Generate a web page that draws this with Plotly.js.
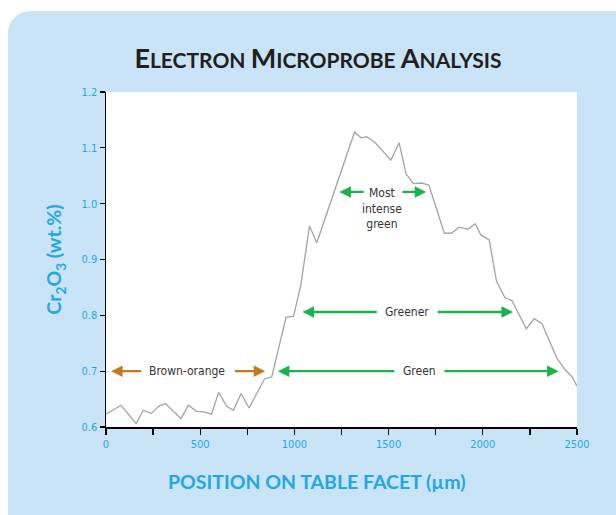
<!DOCTYPE html>
<html>
<head>
<meta charset="utf-8">
<script src="https://cdn.plot.ly/plotly-3.0.1.min.js"></script>
<style>
  html, body { margin: 0; padding: 0; background: #ffffff; width: 616px; height: 515px; overflow: hidden; }
  #card { position: absolute; left: 8px; top: 11px; width: 720px; height: 620px; background: #c9e4f7; border-radius: 22px; }
  #chart { position: absolute; left: 0; top: 0; width: 616px; height: 515px; }
</style>
</head>
<body>
<div id="card"></div>
<div id="chart"></div>
<script>
// Position on table facet (µm)
const positionUm = [0, 80, 160, 198, 240, 282, 315, 398, 437, 481, 518, 560, 598, 641, 676, 717, 759, 841, 880, 956, 995, 1034, 1080, 1119, 1319, 1354, 1384, 1429, 1512, 1556, 1593, 1632, 1677, 1714, 1796, 1832, 1876, 1921, 1960, 1990, 2034, 2073, 2117, 2155, 2231, 2273, 2314, 2394, 2438, 2473, 2500];
// Cr2O3 (wt.%)
const cr2o3 = [0.623, 0.639, 0.606, 0.630, 0.624, 0.638, 0.642, 0.615, 0.639, 0.628, 0.627, 0.623, 0.662, 0.637, 0.630, 0.660, 0.634, 0.686, 0.690, 0.797, 0.798, 0.854, 0.960, 0.930, 1.128, 1.118, 1.120, 1.109, 1.078, 1.109, 1.053, 1.036, 1.037, 1.033, 0.947, 0.947, 0.958, 0.954, 0.964, 0.944, 0.935, 0.861, 0.832, 0.826, 0.776, 0.794, 0.785, 0.723, 0.702, 0.690, 0.673];

const xTickVals = [0, 500, 1000, 1500, 2000, 2500];
const xTickText = ['0', '500', '1000', '1500', '2000', '2500'];

// Colour zone labels: [text, x, y]
const zoneLabels = [
  ['Brown-orange', 432, 0.70],
  ['Green', 1664, 0.70],
  ['Greener', 1600, 0.806],
  ['Most<br>intense<br>green', 1466, 0.992]
];
// Arrows: [tailX, tipX, y, colour]
const zoneArrows = [
  [195, 27, 0.70, 'brown'],
  [676, 845, 0.70, 'brown'],
  [1538, 912, 0.70, 'green'],
  [1788, 2402, 0.70, 'green'],
  [1445, 1043, 0.806, 'green'],
  [1753, 2160, 0.806, 'green'],
  [1376, 1239, 1.021, 'green'],
  [1565, 1700, 1.021, 'green']
];

const colours = { brown: '#c4791f', green: '#1cb24b' };
const cyan = '#22a8e0';
const tickFont = { family: 'DejaVu Sans Condensed, DejaVu Sans, sans-serif', size: 11, color: cyan };
const labelFont = { family: 'DejaVu Sans Condensed, DejaVu Sans, sans-serif', size: 12, color: '#333333' };

const annotations = [];
zoneArrows.forEach(a => {
  annotations.push({
    x: a[1], y: a[2], ax: a[0], ay: a[2],
    xref: 'x', yref: 'y', axref: 'x', ayref: 'y',
    text: '', showarrow: true,
    arrowhead: 2, arrowsize: 1, arrowwidth: 2.3,
    arrowcolor: colours[a[3]], standoff: 0, startstandoff: 0
  });
});
zoneLabels.forEach(l => {
  annotations.push({
    x: l[1], y: l[2], xref: 'x', yref: 'y',
    text: l[0], showarrow: false, font: labelFont,
    xanchor: 'center', yanchor: 'middle', align: 'center'
  });
});
// x-axis title (offset left of the plot centre, as in the reference)
annotations.push({
  x: (317 - 106) / 471, y: (427 - 481) / 335, xref: 'paper', yref: 'paper',
  text: 'POSITION ON TABLE FACET (µm)', showarrow: false,
  font: { family: 'Lato, sans-serif', size: 19.5, color: cyan, weight: 700 },
  xanchor: 'center', yanchor: 'middle'
});

const trace = {
  x: positionUm, y: cr2o3, type: 'scatter', mode: 'lines',
  line: { color: '#a3a3a3', width: 1.3 },
  hoverinfo: 'skip'
};

const big = "<span style='font-size:27px'>";
const layout = {
  width: 616, height: 515,
  margin: { l: 106, r: 39, t: 92, b: 88 },
  paper_bgcolor: 'rgba(0,0,0,0)',
  plot_bgcolor: '#ffffff',
  showlegend: false,
  title: {
    text: big + "E</span>LECTRON " + big + "M</span>ICROPROBE " + big + "A</span>NALYSIS",
    font: { family: 'Lato, sans-serif', size: 21, color: '#231f20', weight: 700 },
    x: 318 / 616, xanchor: 'center', xref: 'container',
    y: 1 - 61 / 515, yanchor: 'middle', yref: 'container'
  },
  xaxis: {
    range: [0, 2500],
    tickmode: 'array', tickvals: xTickVals, ticktext: xTickText,
    ticks: 'outside', ticklen: 6, tickwidth: 1.3, tickcolor: '#000000',
    minor: { dtick: 250, ticks: 'outside', ticklen: 6, tickwidth: 1.3, tickcolor: '#000000', showgrid: false },
    showline: true, linecolor: '#000000', linewidth: 1.5,
    showgrid: false, zeroline: false,
    tickfont: tickFont,
    automargin: false, fixedrange: true
  },
  yaxis: {
    range: [0.6, 1.2], dtick: 0.1, tick0: 0.6, tickformat: '.1f',
    ticks: 'outside', ticklen: 5, tickwidth: 1.3, tickcolor: '#000000',
    showline: true, linecolor: '#000000', linewidth: 1.5,
    showgrid: false, zeroline: false,
    tickfont: tickFont,
    title: {
      text: 'Cr<sub>2</sub>O<sub>3</sub> (wt.%)',
      font: { family: 'Lato, sans-serif', size: 19.5, color: cyan, weight: 700 },
      standoff: 14
    },
    automargin: false, fixedrange: true
  },
  annotations: annotations
};

Plotly.newPlot('chart', [trace], layout, { displayModeBar: false, staticPlot: true });
</script>
</body>
</html>
